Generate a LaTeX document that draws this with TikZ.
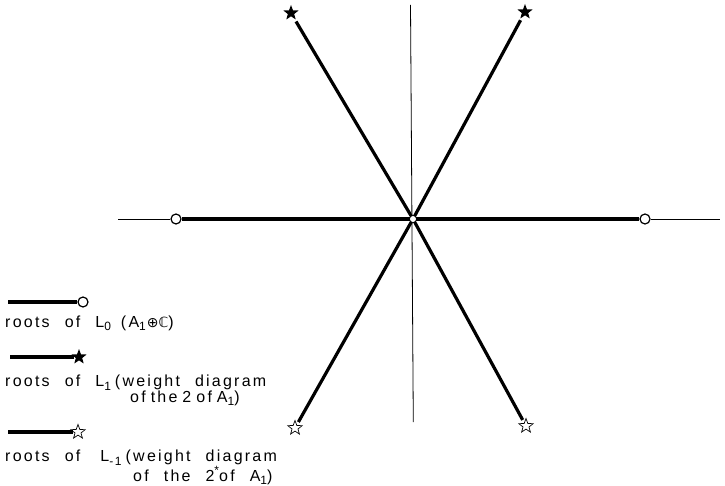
\documentclass[tikz,border=0pt]{standalone}
\usepackage{fontspec}
\setmainfont[LetterSpace=14,WordSpace=2.25]{Liberation Sans}
\newfontfamily\symfont{DejaVu Sans}
\usetikzlibrary{shapes.geometric}
\newcommand\lsub[1]{\raisebox{-0.4ex}{\fontsize{12}{12}\selectfont #1}}
\newcommand\lsup[1]{\raisebox{0.8ex}{\fontsize{12}{12}\selectfont #1}}
\tikzset{
  thickline/.style={line width=3.2pt},
  axisline/.style={line width=0.8pt},
  rootc/.style={circle, draw, line width=1.2pt, fill=white, minimum size=10pt, inner sep=0pt},
  fstar/.style={star, star points=5, star point ratio=2.4, fill=black, minimum size=16pt, inner sep=0pt},
  ostar/.style={star, star points=5, star point ratio=2.4, draw, line width=0.7pt, fill=white, minimum size=15pt, inner sep=0pt},
  lab/.style={anchor=base west, inner sep=0pt, align=left, font=\fontsize{16}{15.5}\selectfont}
}
\begin{document}
\begin{tikzpicture}[x=1pt,y=-1pt]
\useasboundingbox (0,0) rectangle (725,486);
% axes
\coordinate (c) at (413,219);
\coordinate (hl) at (118,219);
\coordinate (hr) at (720,219);
\coordinate (vt) at (410.5,5);
\coordinate (vb) at (413.3,422);
\node[rootc] (a) at (176,219) {};
\node[rootc] (b) at (645,219) {};
\draw[axisline] (hl) -- (a);
\draw[axisline] (b) -- (hr);
\draw[axisline] (vt) -- (vb);
\draw[thickline] (a) -- (b);
% stars
\node[fstar] (s1) at (291,13) {};
\node[fstar] (s2) at (525,12) {};
\node[ostar] (s3) at (295,428) {};
\node[ostar] (s4) at (526,426) {};
\draw[thickline, shorten <=3pt] (s1) -- (c);
\draw[thickline, shorten <=3pt] (s2) -- (c);
\draw[thickline, shorten <=3pt] (s3) -- (c);
\draw[thickline, shorten <=3pt] (s4) -- (c);
\fill[white] (c) circle (3);
% legend
\node[rootc] (l0c) at (83,302) {};
\coordinate (l0a) at (8,302);
\draw[thickline] (l0a) -- (l0c);
\node[fstar] (l1s) at (79,357) {};
\coordinate (l1a) at (10,357);
\draw[thickline] (l1a) -- (l1s);
\node[ostar] (l2s) at (78,432) {};
\coordinate (l2a) at (8,432);
\draw[thickline] (l2a) -- (l2s);
\node[lab] (t0) at (5,327) {roots of L\lsub{0}\hspace{10pt}(A\lsub{1}\hspace{1pt}{\symfont\fontsize{14}{14}\selectfont ⊕ℂ})};
\node[lab, anchor=north west] (t1) at (5,375) {roots of L\lsub{1}\hspace{4pt}(weight diagram\\\hspace*{125pt}{\spaceskip=5pt of the 2 of A\lsub{1})}};
\node[lab, anchor=north west] (t2) at (5,450) {roots of\hspace{5pt} L\lsub{-1}\hspace{4pt}(weight diagram\\\hspace*{128pt}of the 2\lsup{*}of A\lsub{1})};
\end{tikzpicture}
\end{document}
